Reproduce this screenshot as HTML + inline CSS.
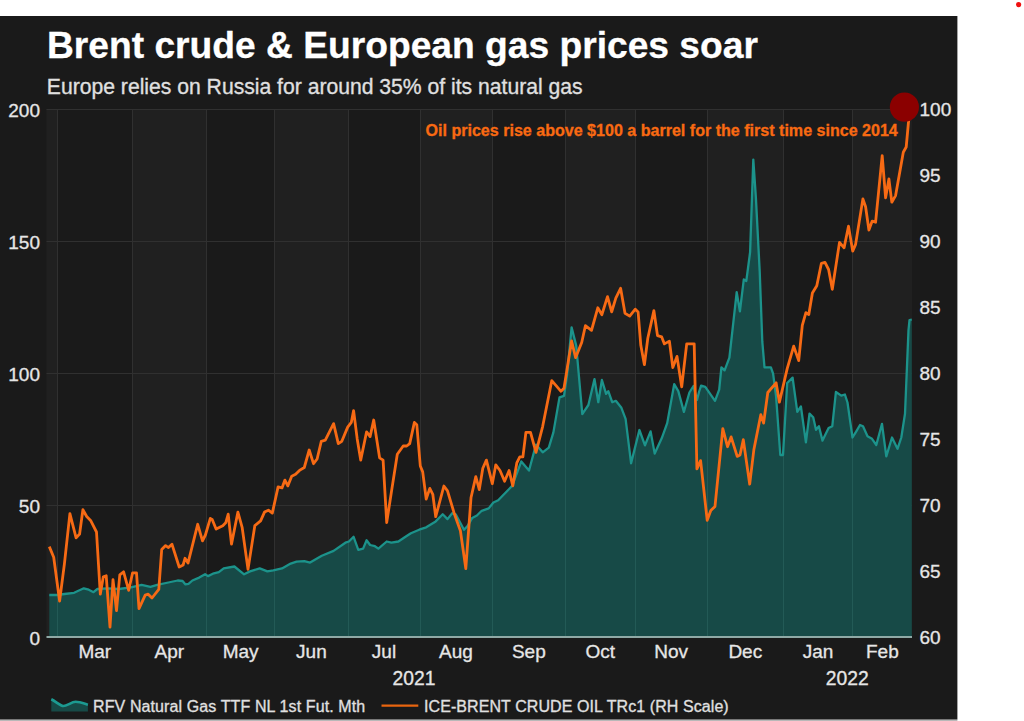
<!DOCTYPE html>
<html><head><meta charset="utf-8"><style>
html,body{margin:0;padding:0;background:#fff;width:1024px;height:721px;overflow:hidden}
svg{display:block;font-family:"Liberation Sans",sans-serif}
</style></head><body>
<svg width="1024" height="721" viewBox="0 0 1024 721">
<rect x="0" y="0" width="1024" height="721" fill="#ffffff"/>
<circle cx="1018.6" cy="4.6" r="2.6" fill="#f01010"/>
<rect x="0" y="719" width="957.4" height="2" fill="#b8b8b8"/><rect x="0" y="16" width="957.4" height="703.4" fill="#1a1a1a"/>
<rect x="46.5" y="109" width="10.5" height="528.0" fill="#202020"/><rect x="57.0" y="109" width="75.5" height="528.0" fill="#1a1a1a"/><rect x="132.5" y="109" width="73.9" height="528.0" fill="#202020"/><rect x="206.4" y="109" width="68.3" height="528.0" fill="#1a1a1a"/><rect x="274.7" y="109" width="73.3" height="528.0" fill="#202020"/><rect x="348.0" y="109" width="72.0" height="528.0" fill="#1a1a1a"/><rect x="420.0" y="109" width="72.0" height="528.0" fill="#202020"/><rect x="492.0" y="109" width="73.5" height="528.0" fill="#1a1a1a"/><rect x="565.5" y="109" width="69.5" height="528.0" fill="#202020"/><rect x="635.0" y="109" width="72.3" height="528.0" fill="#1a1a1a"/><rect x="707.3" y="109" width="76.1" height="528.0" fill="#202020"/><rect x="783.4" y="109" width="69.4" height="528.0" fill="#1a1a1a"/><rect x="852.8" y="109" width="59.2" height="528.0" fill="#202020"/><line x1="57.5" y1="109" x2="57.5" y2="637" stroke="#303030" stroke-width="1"/><line x1="132.5" y1="109" x2="132.5" y2="637" stroke="#303030" stroke-width="1"/><line x1="206.5" y1="109" x2="206.5" y2="637" stroke="#303030" stroke-width="1"/><line x1="274.5" y1="109" x2="274.5" y2="637" stroke="#303030" stroke-width="1"/><line x1="348.5" y1="109" x2="348.5" y2="637" stroke="#303030" stroke-width="1"/><line x1="420.5" y1="109" x2="420.5" y2="637" stroke="#303030" stroke-width="1"/><line x1="492.5" y1="109" x2="492.5" y2="637" stroke="#303030" stroke-width="1"/><line x1="565.5" y1="109" x2="565.5" y2="637" stroke="#303030" stroke-width="1"/><line x1="635.5" y1="109" x2="635.5" y2="637" stroke="#303030" stroke-width="1"/><line x1="707.5" y1="109" x2="707.5" y2="637" stroke="#303030" stroke-width="1"/><line x1="783.5" y1="109" x2="783.5" y2="637" stroke="#303030" stroke-width="1"/><line x1="852.5" y1="109" x2="852.5" y2="637" stroke="#303030" stroke-width="1"/><line x1="46.5" y1="505.5" x2="912" y2="505.5" stroke="#303030" stroke-width="1"/><line x1="46.5" y1="373.5" x2="912" y2="373.5" stroke="#303030" stroke-width="1"/><line x1="46.5" y1="241.5" x2="912" y2="241.5" stroke="#303030" stroke-width="1"/><line x1="46.5" y1="109.5" x2="912" y2="109.5" stroke="#303030" stroke-width="1"/><polygon points="49.3,637 49.3,595.0 56.7,595.0 64.4,594.0 74.1,592.8 83.8,588.3 88.7,589.7 93.5,592.2 97.4,589.0 107.1,588.3 118.8,589.0 130.9,587.3 141.6,584.9 150.4,586.9 157.2,584.9 166.0,583.0 177.7,580.5 182.6,581.0 185.5,584.4 188.5,583.9 192.4,580.5 199.2,577.6 205.1,574.2 208.0,576.1 212.9,573.7 218.8,572.2 223.7,568.4 234.4,566.5 244.1,574.3 250.0,571.4 259.7,568.4 267.4,571.4 273.3,570.4 282.0,568.4 290.7,563.6 296.6,561.7 304.3,561.1 310.1,562.6 321.8,555.7 333.6,550.9 345.4,542.7 348.9,541.5 353.6,536.8 358.3,549.8 363.1,548.6 366.6,540.3 370.1,545.0 374.9,546.2 378.4,548.6 386.7,541.5 391.4,542.7 398.4,541.5 405.5,536.8 410.9,533.2 419.2,529.7 426.2,527.3 435.7,521.4 442.7,514.3 447.5,519.1 452.2,513.2 455.7,514.3 464.0,529.7 467.5,526.1 472.2,517.9 476.9,515.5 481.7,510.8 488.7,508.4 493.4,502.5 498.2,500.2 512.2,485.8 521.3,461.4 529.0,470.5 536.0,444.6 542.7,452.3 548.8,447.7 553.4,432.4 559.5,397.4 564.0,395.9 567.1,374.5 571.6,327.3 576.2,345.5 582.3,414.1 588.4,405.0 594.5,379.1 598.3,402.2 601.9,380.0 606.1,393.9 608.3,391.1 612.2,402.2 615.8,400.8 621.4,407.8 625.6,418.9 631.1,463.3 639.4,430.0 645.0,445.3 650.6,431.4 654.7,453.6 661.7,438.3 667.2,423.1 674.2,384.2 678.3,391.1 683.9,411.9 689.4,392.5 693.5,386.0 697.0,400.0 699.0,392.0 701.1,385.6 705.3,386.9 715.0,400.8 719.2,389.7 721.4,367.3 724.6,370.4 729.4,357.7 736.7,292.2 739.9,311.3 743.8,279.4 746.3,281.0 750.1,252.2 753.3,159.6 755.9,197.9 759.7,271.4 762.3,341.7 764.5,367.3 770.9,367.3 773.1,373.6 776.1,396.7 780.3,455.0 783.0,455.0 787.2,383.0 792.6,377.6 797.3,411.8 800.9,406.4 805.9,442.4 809.5,413.6 813.2,417.2 816.0,429.8 818.9,426.2 822.5,440.6 828.6,428.0 832.3,426.2 835.9,392.0 841.3,395.6 844.9,394.5 847.5,402.5 852.5,437.5 856.3,431.3 860.0,425.0 863.0,426.3 867.5,436.3 872.0,438.8 876.3,445.0 882.0,423.8 886.3,456.3 892.0,437.5 897.5,448.8 901.3,437.5 905.0,413.8 908.5,330.0 909.5,320.0 911.8,319.5 911.8,637" fill="#174a47"/><clipPath id="gc"><polygon points="49.3,637 49.3,595.0 56.7,595.0 64.4,594.0 74.1,592.8 83.8,588.3 88.7,589.7 93.5,592.2 97.4,589.0 107.1,588.3 118.8,589.0 130.9,587.3 141.6,584.9 150.4,586.9 157.2,584.9 166.0,583.0 177.7,580.5 182.6,581.0 185.5,584.4 188.5,583.9 192.4,580.5 199.2,577.6 205.1,574.2 208.0,576.1 212.9,573.7 218.8,572.2 223.7,568.4 234.4,566.5 244.1,574.3 250.0,571.4 259.7,568.4 267.4,571.4 273.3,570.4 282.0,568.4 290.7,563.6 296.6,561.7 304.3,561.1 310.1,562.6 321.8,555.7 333.6,550.9 345.4,542.7 348.9,541.5 353.6,536.8 358.3,549.8 363.1,548.6 366.6,540.3 370.1,545.0 374.9,546.2 378.4,548.6 386.7,541.5 391.4,542.7 398.4,541.5 405.5,536.8 410.9,533.2 419.2,529.7 426.2,527.3 435.7,521.4 442.7,514.3 447.5,519.1 452.2,513.2 455.7,514.3 464.0,529.7 467.5,526.1 472.2,517.9 476.9,515.5 481.7,510.8 488.7,508.4 493.4,502.5 498.2,500.2 512.2,485.8 521.3,461.4 529.0,470.5 536.0,444.6 542.7,452.3 548.8,447.7 553.4,432.4 559.5,397.4 564.0,395.9 567.1,374.5 571.6,327.3 576.2,345.5 582.3,414.1 588.4,405.0 594.5,379.1 598.3,402.2 601.9,380.0 606.1,393.9 608.3,391.1 612.2,402.2 615.8,400.8 621.4,407.8 625.6,418.9 631.1,463.3 639.4,430.0 645.0,445.3 650.6,431.4 654.7,453.6 661.7,438.3 667.2,423.1 674.2,384.2 678.3,391.1 683.9,411.9 689.4,392.5 693.5,386.0 697.0,400.0 699.0,392.0 701.1,385.6 705.3,386.9 715.0,400.8 719.2,389.7 721.4,367.3 724.6,370.4 729.4,357.7 736.7,292.2 739.9,311.3 743.8,279.4 746.3,281.0 750.1,252.2 753.3,159.6 755.9,197.9 759.7,271.4 762.3,341.7 764.5,367.3 770.9,367.3 773.1,373.6 776.1,396.7 780.3,455.0 783.0,455.0 787.2,383.0 792.6,377.6 797.3,411.8 800.9,406.4 805.9,442.4 809.5,413.6 813.2,417.2 816.0,429.8 818.9,426.2 822.5,440.6 828.6,428.0 832.3,426.2 835.9,392.0 841.3,395.6 844.9,394.5 847.5,402.5 852.5,437.5 856.3,431.3 860.0,425.0 863.0,426.3 867.5,436.3 872.0,438.8 876.3,445.0 882.0,423.8 886.3,456.3 892.0,437.5 897.5,448.8 901.3,437.5 905.0,413.8 908.5,330.0 909.5,320.0 911.8,319.5 911.8,637"/></clipPath><g clip-path="url(#gc)"><line x1="57.5" y1="109" x2="57.5" y2="637" stroke="#235a56" stroke-width="1"/><line x1="132.5" y1="109" x2="132.5" y2="637" stroke="#235a56" stroke-width="1"/><line x1="206.5" y1="109" x2="206.5" y2="637" stroke="#235a56" stroke-width="1"/><line x1="274.5" y1="109" x2="274.5" y2="637" stroke="#235a56" stroke-width="1"/><line x1="348.5" y1="109" x2="348.5" y2="637" stroke="#235a56" stroke-width="1"/><line x1="420.5" y1="109" x2="420.5" y2="637" stroke="#235a56" stroke-width="1"/><line x1="492.5" y1="109" x2="492.5" y2="637" stroke="#235a56" stroke-width="1"/><line x1="565.5" y1="109" x2="565.5" y2="637" stroke="#235a56" stroke-width="1"/><line x1="635.5" y1="109" x2="635.5" y2="637" stroke="#235a56" stroke-width="1"/><line x1="707.5" y1="109" x2="707.5" y2="637" stroke="#235a56" stroke-width="1"/><line x1="783.5" y1="109" x2="783.5" y2="637" stroke="#235a56" stroke-width="1"/><line x1="852.5" y1="109" x2="852.5" y2="637" stroke="#235a56" stroke-width="1"/></g><polyline points="49.3,595.0 56.7,595.0 64.4,594.0 74.1,592.8 83.8,588.3 88.7,589.7 93.5,592.2 97.4,589.0 107.1,588.3 118.8,589.0 130.9,587.3 141.6,584.9 150.4,586.9 157.2,584.9 166.0,583.0 177.7,580.5 182.6,581.0 185.5,584.4 188.5,583.9 192.4,580.5 199.2,577.6 205.1,574.2 208.0,576.1 212.9,573.7 218.8,572.2 223.7,568.4 234.4,566.5 244.1,574.3 250.0,571.4 259.7,568.4 267.4,571.4 273.3,570.4 282.0,568.4 290.7,563.6 296.6,561.7 304.3,561.1 310.1,562.6 321.8,555.7 333.6,550.9 345.4,542.7 348.9,541.5 353.6,536.8 358.3,549.8 363.1,548.6 366.6,540.3 370.1,545.0 374.9,546.2 378.4,548.6 386.7,541.5 391.4,542.7 398.4,541.5 405.5,536.8 410.9,533.2 419.2,529.7 426.2,527.3 435.7,521.4 442.7,514.3 447.5,519.1 452.2,513.2 455.7,514.3 464.0,529.7 467.5,526.1 472.2,517.9 476.9,515.5 481.7,510.8 488.7,508.4 493.4,502.5 498.2,500.2 512.2,485.8 521.3,461.4 529.0,470.5 536.0,444.6 542.7,452.3 548.8,447.7 553.4,432.4 559.5,397.4 564.0,395.9 567.1,374.5 571.6,327.3 576.2,345.5 582.3,414.1 588.4,405.0 594.5,379.1 598.3,402.2 601.9,380.0 606.1,393.9 608.3,391.1 612.2,402.2 615.8,400.8 621.4,407.8 625.6,418.9 631.1,463.3 639.4,430.0 645.0,445.3 650.6,431.4 654.7,453.6 661.7,438.3 667.2,423.1 674.2,384.2 678.3,391.1 683.9,411.9 689.4,392.5 693.5,386.0 697.0,400.0 699.0,392.0 701.1,385.6 705.3,386.9 715.0,400.8 719.2,389.7 721.4,367.3 724.6,370.4 729.4,357.7 736.7,292.2 739.9,311.3 743.8,279.4 746.3,281.0 750.1,252.2 753.3,159.6 755.9,197.9 759.7,271.4 762.3,341.7 764.5,367.3 770.9,367.3 773.1,373.6 776.1,396.7 780.3,455.0 783.0,455.0 787.2,383.0 792.6,377.6 797.3,411.8 800.9,406.4 805.9,442.4 809.5,413.6 813.2,417.2 816.0,429.8 818.9,426.2 822.5,440.6 828.6,428.0 832.3,426.2 835.9,392.0 841.3,395.6 844.9,394.5 847.5,402.5 852.5,437.5 856.3,431.3 860.0,425.0 863.0,426.3 867.5,436.3 872.0,438.8 876.3,445.0 882.0,423.8 886.3,456.3 892.0,437.5 897.5,448.8 901.3,437.5 905.0,413.8 908.5,330.0 909.5,320.0 911.8,319.5" fill="none" stroke="#1c938b" stroke-width="2.3" stroke-linejoin="round"/><polyline points="49.3,546.6 53.7,557.3 59.6,601.0 64.4,564.0 69.9,513.6 76.1,537.9 79.6,534.0 82.9,509.7 86.7,516.5 90.6,520.4 96.5,532.0 100.3,594.2 103.3,576.7 106.2,575.7 110.0,627.2 113.0,579.6 116.5,610.7 119.8,574.8 123.6,571.8 128.7,590.3 132.6,572.8 136.5,572.8 139.0,608.7 145.2,595.1 148.2,594.2 152.0,598.0 158.8,589.3 161.7,549.5 165.6,545.6 168.5,547.6 172.0,544.3 179.2,567.0 183.1,565.0 185.0,558.3 188.0,563.1 197.7,524.3 202.5,540.8 205.4,535.0 210.3,518.4 212.2,519.4 216.1,529.1 222.8,525.7 225.7,522.8 228.2,514.1 231.5,544.2 237.9,512.1 242.2,527.7 248.0,569.4 254.8,525.7 260.6,520.9 264.5,512.1 268.4,510.2 272.3,513.1 278.1,486.9 282.0,487.9 284.9,480.1 287.8,485.9 291.7,476.2 295.6,474.3 299.5,470.4 304.3,467.5 309.2,450.0 313.5,463.7 317.1,459.0 321.3,441.3 325.3,440.1 333.6,423.6 338.3,443.6 341.8,441.3 347.7,427.1 351.3,422.4 353.6,410.6 357.2,438.9 360.7,460.1 366.6,431.8 370.1,436.6 373.7,420.0 379.6,457.8 383.1,460.1 386.7,522.6 391.4,492.0 397.3,454.2 403.2,446.0 406.7,446.0 409.7,443.6 414.4,422.4 416.8,424.7 420.3,466.0 422.7,471.9 426.2,499.0 429.8,488.4 432.8,494.3 435.7,516.7 443.9,486.0 447.5,490.8 454.5,514.3 460.4,530.8 465.8,568.6 471.0,497.8 475.8,476.6 479.3,489.6 482.8,468.3 486.4,460.1 492.3,483.7 495.8,464.8 500.0,470.5 504.6,481.2 509.1,470.5 512.8,485.8 516.8,462.9 519.8,456.8 522.9,456.8 525.9,432.4 530.5,432.4 536.0,452.3 542.7,426.3 551.8,380.6 561.0,391.3 564.0,388.2 571.6,341.0 575.6,357.7 581.7,342.5 585.4,325.7 591.5,330.3 597.8,307.8 601.9,314.7 607.5,296.7 611.7,311.9 615.8,298.1 620.6,288.3 625.0,313.3 629.7,316.1 635.3,309.2 638.1,311.9 640.8,345.3 644.4,364.7 647.8,338.3 653.9,310.6 657.5,335.6 661.7,336.9 664.4,343.9 669.4,341.1 672.8,367.5 677.0,356.4 681.7,386.9 686.7,343.9 694.2,343.9 696.9,468.9 700.6,460.6 707.2,520.3 710.8,510.6 715.0,506.4 722.8,428.6 727.5,446.7 731.1,436.9 737.2,456.4 740.0,455.0 743.3,439.7 749.7,484.2 753.9,449.4 760.8,414.7 763.6,423.1 767.8,392.5 776.1,382.8 779.4,402.2 787.2,368.6 793.7,346.2 798.7,360.6 802.3,325.3 805.9,312.7 808.8,314.5 812.4,292.9 816.8,285.7 821.4,263.3 825.0,262.3 828.6,269.5 832.3,289.3 839.5,242.4 844.1,247.8 848.5,226.2 852.7,251.1 855.6,244.4 862.9,198.9 865.6,206.7 868.9,230.0 872.2,221.1 875.6,222.2 882.2,155.6 885.6,197.8 888.9,178.9 891.8,202.2 895.6,195.6 903.3,152.2 906.2,147.0 908.5,122.0 910.0,110.0" fill="none" stroke="#f76a14" stroke-width="2.8" stroke-linejoin="round"/><line x1="46.5" y1="637" x2="912" y2="637" stroke="#8fa9a6" stroke-width="2"/><circle cx="904.4" cy="107.1" r="14.6" fill="#8b0000"/><path d="M51.3,699.3 C56,701.5 60,706 63.5,706 C67,706 71.5,701.8 75.7,701.8 C79.5,701.8 84,703.5 87.9,704.7 L87.9,711.5 L51.3,711.5 Z" fill="#174a47"/><path d="M51.3,699.3 C56,701.5 60,706 63.5,706 C67,706 71.5,701.8 75.7,701.8 C79.5,701.8 84,703.5 87.9,704.7" fill="none" stroke="#1c9a91" stroke-width="2.6"/><line x1="381.5" y1="705.6" x2="418.3" y2="705.6" stroke="#e8650f" stroke-width="2.4"/>
<text x="47.0" y="58.2" font-size="37.2" font-weight="bold" fill="#ffffff" stroke="#ffffff" stroke-width="0.3" text-anchor="start">Brent crude &amp; European gas prices soar</text><text x="46.8" y="93.5" font-size="21.15" font-weight="normal" fill="#e0e0e0" stroke="#e0e0e0" stroke-width="0.3" text-anchor="start">Europe relies on Russia for around 35% of its natural gas</text><text x="40" y="644.5" font-size="19" font-weight="normal" fill="#e6e6e6" stroke="#e6e6e6" stroke-width="0.3" text-anchor="end">0</text><text x="40" y="512.5" font-size="19" font-weight="normal" fill="#e6e6e6" stroke="#e6e6e6" stroke-width="0.3" text-anchor="end">50</text><text x="40" y="380.5" font-size="19" font-weight="normal" fill="#e6e6e6" stroke="#e6e6e6" stroke-width="0.3" text-anchor="end">100</text><text x="40" y="248.5" font-size="19" font-weight="normal" fill="#e6e6e6" stroke="#e6e6e6" stroke-width="0.3" text-anchor="end">150</text><text x="40" y="116.5" font-size="19" font-weight="normal" fill="#e6e6e6" stroke="#e6e6e6" stroke-width="0.3" text-anchor="end">200</text><text x="919.5" y="644.3" font-size="19" font-weight="normal" fill="#e6e6e6" stroke="#e6e6e6" stroke-width="0.3" text-anchor="start">60</text><text x="919.5" y="578.3" font-size="19" font-weight="normal" fill="#e6e6e6" stroke="#e6e6e6" stroke-width="0.3" text-anchor="start">65</text><text x="919.5" y="512.3" font-size="19" font-weight="normal" fill="#e6e6e6" stroke="#e6e6e6" stroke-width="0.3" text-anchor="start">70</text><text x="919.5" y="446.3" font-size="19" font-weight="normal" fill="#e6e6e6" stroke="#e6e6e6" stroke-width="0.3" text-anchor="start">75</text><text x="919.5" y="380.3" font-size="19" font-weight="normal" fill="#e6e6e6" stroke="#e6e6e6" stroke-width="0.3" text-anchor="start">80</text><text x="919.5" y="314.3" font-size="19" font-weight="normal" fill="#e6e6e6" stroke="#e6e6e6" stroke-width="0.3" text-anchor="start">85</text><text x="919.5" y="248.3" font-size="19" font-weight="normal" fill="#e6e6e6" stroke="#e6e6e6" stroke-width="0.3" text-anchor="start">90</text><text x="919.5" y="182.3" font-size="19" font-weight="normal" fill="#e6e6e6" stroke="#e6e6e6" stroke-width="0.3" text-anchor="start">95</text><text x="919.5" y="116.3" font-size="19" font-weight="normal" fill="#e6e6e6" stroke="#e6e6e6" stroke-width="0.3" text-anchor="start">100</text><text x="94.8" y="658" font-size="19" font-weight="normal" fill="#e6e6e6" stroke="#e6e6e6" stroke-width="0.3" text-anchor="middle">Mar</text><text x="169.4" y="658" font-size="19" font-weight="normal" fill="#e6e6e6" stroke="#e6e6e6" stroke-width="0.3" text-anchor="middle">Apr</text><text x="240.6" y="658" font-size="19" font-weight="normal" fill="#e6e6e6" stroke="#e6e6e6" stroke-width="0.3" text-anchor="middle">May</text><text x="311.4" y="658" font-size="19" font-weight="normal" fill="#e6e6e6" stroke="#e6e6e6" stroke-width="0.3" text-anchor="middle">Jun</text><text x="384.0" y="658" font-size="19" font-weight="normal" fill="#e6e6e6" stroke="#e6e6e6" stroke-width="0.3" text-anchor="middle">Jul</text><text x="456.0" y="658" font-size="19" font-weight="normal" fill="#e6e6e6" stroke="#e6e6e6" stroke-width="0.3" text-anchor="middle">Aug</text><text x="528.8" y="658" font-size="19" font-weight="normal" fill="#e6e6e6" stroke="#e6e6e6" stroke-width="0.3" text-anchor="middle">Sep</text><text x="600.2" y="658" font-size="19" font-weight="normal" fill="#e6e6e6" stroke="#e6e6e6" stroke-width="0.3" text-anchor="middle">Oct</text><text x="671.1" y="658" font-size="19" font-weight="normal" fill="#e6e6e6" stroke="#e6e6e6" stroke-width="0.3" text-anchor="middle">Nov</text><text x="745.3" y="658" font-size="19" font-weight="normal" fill="#e6e6e6" stroke="#e6e6e6" stroke-width="0.3" text-anchor="middle">Dec</text><text x="818.1" y="658" font-size="19" font-weight="normal" fill="#e6e6e6" stroke="#e6e6e6" stroke-width="0.3" text-anchor="middle">Jan</text><text x="882.4" y="658" font-size="19" font-weight="normal" fill="#e6e6e6" stroke="#e6e6e6" stroke-width="0.3" text-anchor="middle">Feb</text><text x="414" y="685" font-size="19.3" font-weight="normal" fill="#e6e6e6" stroke="#e6e6e6" stroke-width="0.3" text-anchor="middle">2021</text><text x="847.2" y="685" font-size="19.3" font-weight="normal" fill="#e6e6e6" stroke="#e6e6e6" stroke-width="0.3" text-anchor="middle">2022</text><text x="897.8" y="136" font-size="16.07" font-weight="bold" fill="#f96a12" stroke="#f96a12" stroke-width="0.3" text-anchor="end">Oil prices rise above $100 a barrel for the first time since 2014</text><text x="93" y="711.6" font-size="16" font-weight="normal" fill="#e0e0e0" stroke="#e0e0e0" stroke-width="0.3" letter-spacing="0.11" text-anchor="start">RFV Natural Gas TTF NL 1st Fut. Mth</text><text x="424" y="711.6" font-size="16" font-weight="normal" fill="#e0e0e0" stroke="#e0e0e0" stroke-width="0.3" letter-spacing="0.08" text-anchor="start">ICE-BRENT CRUDE OIL TRc1 (RH Scale)</text>
</svg></body></html>
